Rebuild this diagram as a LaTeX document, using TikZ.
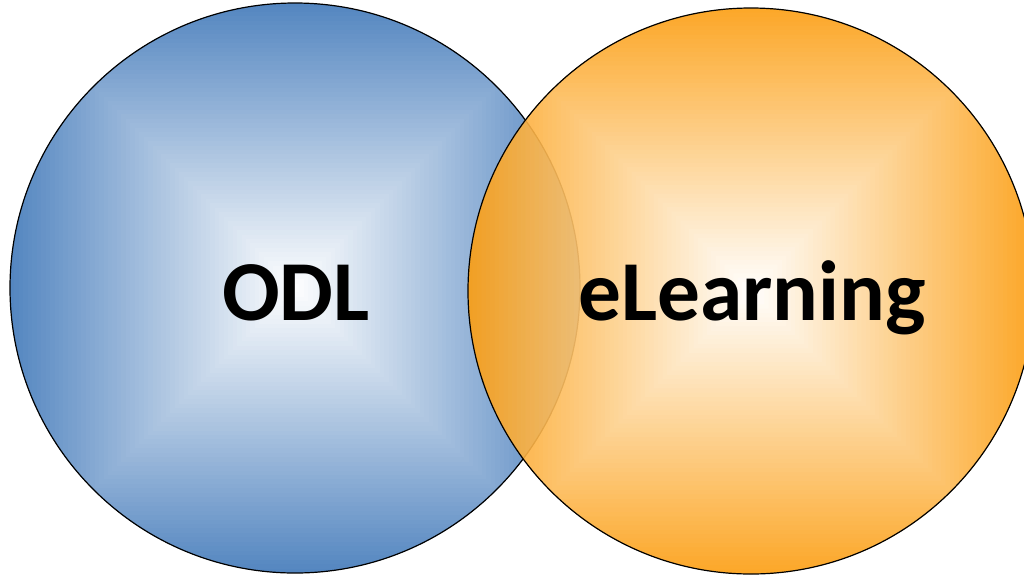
\documentclass[tikz,border=0pt]{standalone}
\usepackage{fontspec}
\setmainfont{Carlito}
\definecolor{odlblue}{RGB}{84,134,192}
\definecolor{elorange}{RGB}{252,158,18}
\tikzset{
  ring/.style={draw=black, line width=0.9pt},
  label/.style={font=\bfseries\fontsize{64}{68}\selectfont, text=black, anchor=base, inner sep=0pt}
}
\begin{document}
\begin{tikzpicture}[x=0.75pt,y=-0.75pt]
\useasboundingbox (0,0) rectangle (1024,576);
% blue circle with square gradient
\begin{scope}
  \clip (295,288) circle (285);
  \foreach \i in {64,63,...,1}{
    \pgfmathsetmacro\h{\i/64*285}
    \pgfmathsetmacro\p{\i/64*100}
    \fill[odlblue!\p!white] (295-\h,288-\h) rectangle (295+\h,288+\h);
  }
\end{scope}
\draw[ring] (295,288) circle (285);
% orange circle, semi-transparent
\begin{scope}[transparency group, opacity=0.9]
  \clip (751,291) circle (283);
  \foreach \i in {64,63,...,1}{
    \pgfmathsetmacro\h{\i/64*283}
    \pgfmathsetmacro\p{\i/64*100}
    \fill[elorange!\p!white] (751-\h,291-\h) rectangle (751+\h,291+\h);
  }
\end{scope}
\draw[ring] (751,291) circle (283);
\node[label] (odl) at (296,320) {ODL};
\node[label] (el) at (752,320) {eLearning};
\end{tikzpicture}
\end{document}
